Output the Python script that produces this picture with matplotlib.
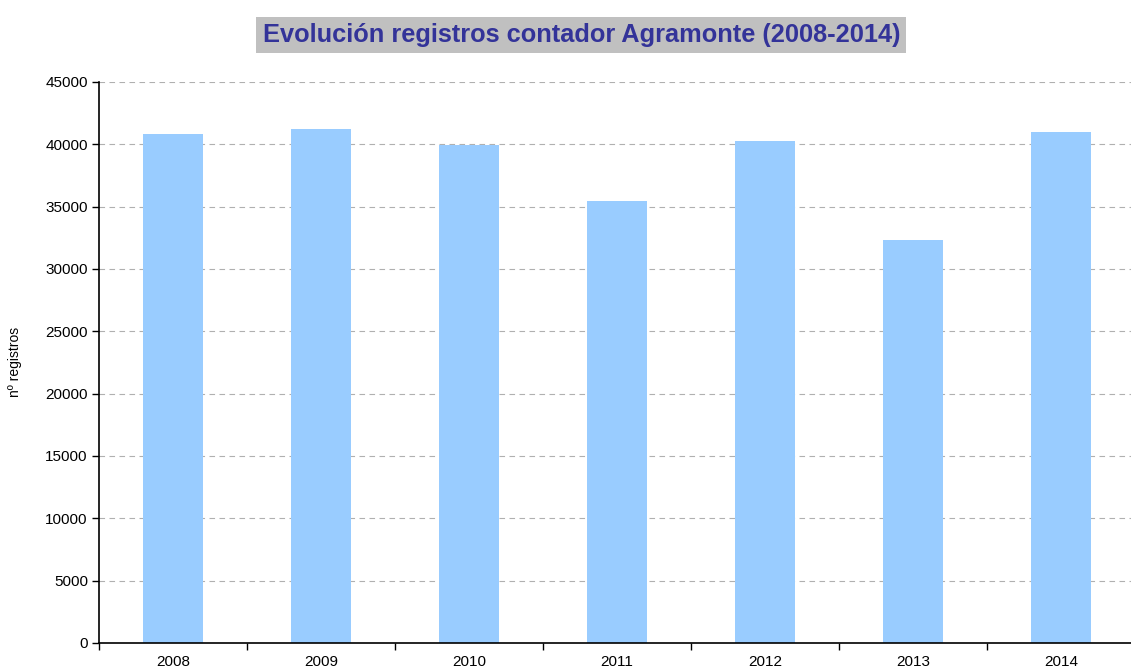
import matplotlib.pyplot as plt
import numpy as np

plt.rcParams['font.family'] = ['Liberation Sans', 'DejaVu Sans']

years = ['2008', '2009', '2010', '2011', '2012', '2013', '2014']
registros = [40850, 41250, 39950, 35450, 40250, 32300, 40950]

fig = plt.figure(figsize=(11.31, 6.72), dpi=100)
ax = fig.add_axes([0.0875, 0.0432, 0.916, 0.835])

x = np.arange(len(years))
ax.bar(x, registros, width=0.41, color='#99CCFF', zorder=2)

ax.set_xlim(-0.5, len(years) - 0.5)
ax.set_ylim(0, 45000)
ax.set_yticks(np.arange(0, 45001, 5000))
ax.set_yticklabels([str(v) for v in range(0, 45001, 5000)], fontsize=11)

ax.set_xticks(x)
ax.set_xticklabels(years, fontsize=11)
ax.tick_params(axis='x', which='major', length=0, pad=9)
ax.set_xticks(np.arange(-0.5, len(years) + 0.5, 1), minor=True)
ax.tick_params(axis='x', which='minor', length=5, width=1, direction='out')
ax.tick_params(axis='y', length=5, width=1, direction='out', pad=3)

ax.grid(axis='y', linestyle=(0, (5, 4)), color='#b0b0b0', linewidth=0.8, zorder=0)
ax.spines['top'].set_visible(False)
ax.spines['right'].set_visible(False)
ax.spines['left'].set_linewidth(1.2)
ax.spines['bottom'].set_linewidth(1.2)

ax.set_ylabel('nº registros', fontsize=10, labelpad=17)

fig.text(0.514, 0.948, 'Evolución registros contador Agramonte (2008-2014)',
         ha='center', va='center', fontsize=18.3, fontweight='bold', color='#333399',
         bbox=dict(boxstyle='square,pad=0.25', facecolor='#c0c0c0', edgecolor='none'))

fig.savefig('out.png', dpi=100)
